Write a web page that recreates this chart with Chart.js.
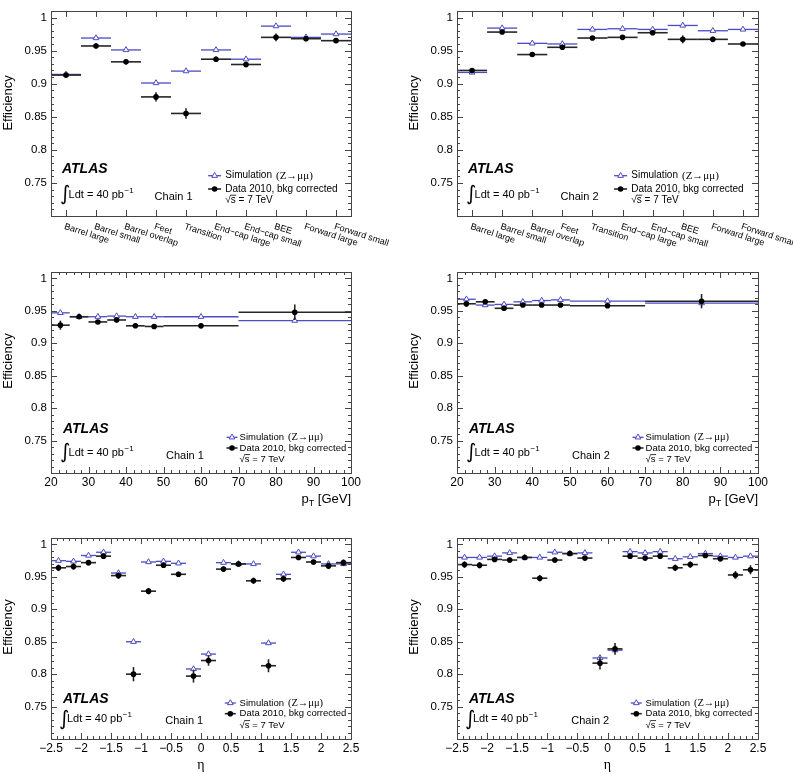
<!DOCTYPE html>
<html>
<head>
<meta charset="utf-8">
<script src="https://cdn.jsdelivr.net/npm/chart.js"></script>
<style>
  body { margin: 0; background: #fff; }
  #wrap { position: relative; width: 793px; height: 774px; }
  #wrap canvas { position: absolute; left: 0; top: 0; }
</style>
</head>
<body>
<div id="wrap">
  <canvas id="regionChain1" width="793" height="774"></canvas>
  <canvas id="regionChain2" width="793" height="774"></canvas>
  <canvas id="ptChain1" width="793" height="774"></canvas>
  <canvas id="ptChain2" width="793" height="774"></canvas>
  <canvas id="etaChain1" width="793" height="774"></canvas>
  <canvas id="etaChain2" width="793" height="774"></canvas>
</div>
<script>
// Detector regions (top row)
const regionLabels = ["Barrel large", "Barrel small", "Barrel overlap", "Feet", "Transition",
  "End\u2212cap large", "End\u2212cap small", "BEE", "Forward large", "Forward small"];
const regionEdges = [0, 1, 2, 3, 4, 5, 6, 7, 8, 9, 10];
const regionSimChain1 = [0.914, 0.969, 0.951, 0.901, 0.919, 0.951, 0.937, 0.987, 0.970, 0.975];
const regionDataChain1 = [0.913, 0.957, 0.933, 0.880, 0.855, 0.937, 0.929, 0.970, 0.968, 0.965];
const regionErrChain1 = [0.003, 0.004, 0.004, 0.007, 0.008, 0.004, 0.004, 0.006, 0.004, 0.003];
const regionSimChain2 = [0.917, 0.984, 0.961, 0.960, 0.982, 0.983, 0.982, 0.988, 0.980, 0.982];
const regionDataChain2 = [0.920, 0.978, 0.944, 0.955, 0.969, 0.970, 0.977, 0.967, 0.967, 0.960];
const regionErrChain2 = [0.003, 0.003, 0.003, 0.004, 0.003, 0.003, 0.003, 0.006, 0.004, 0.003];

// pT bins (middle row)
const ptEdges = [20, 25, 30, 35, 40, 45, 50, 70, 100];
const ptTicks = [20, 30, 40, 50, 60, 70, 80, 90, 100];
const ptSimChain1 = [0.947, 0.941, 0.941, 0.942, 0.941, 0.941, 0.941, 0.935];
const ptDataChain1 = [0.928, 0.941, 0.933, 0.936, 0.927, 0.926, 0.927, 0.948];
const ptErrChain1 = [0.007, 0.003, 0.003, 0.004, 0.003, 0.003, 0.004, 0.012];
const ptSimChain2 = [0.968, 0.959, 0.960, 0.964, 0.966, 0.967, 0.965, 0.962];
const ptDataChain2 = [0.961, 0.964, 0.954, 0.959, 0.959, 0.959, 0.958, 0.965];
const ptErrChain2 = [0.005, 0.003, 0.003, 0.003, 0.003, 0.003, 0.003, 0.011];

// eta bins (bottom row)
const etaEdges = [-2.5, -2.25, -2, -1.75, -1.5, -1.25, -1, -0.75, -0.5, -0.25, 0,
  0.25, 0.5, 0.75, 1, 1.25, 1.5, 1.75, 2, 2.25, 2.5];
const etaTicks = [-2.5, -2, -1.5, -1, -0.5, 0, 0.5, 1, 1.5, 2, 2.5];
const etaSimChain1 = [0.975, 0.974, 0.983, 0.988, 0.956, 0.850, 0.973, 0.974, 0.971, 0.808,
  0.831, 0.972, 0.970, 0.970, 0.848, 0.954, 0.988, 0.982, 0.970, 0.970];
const etaDataChain1 = [0.964, 0.966, 0.972, 0.982, 0.952, 0.800, 0.928, 0.968, 0.954, 0.797,
  0.821, 0.962, 0.970, 0.944, 0.813, 0.947, 0.980, 0.973, 0.967, 0.972];
const etaErrChain1 = [0.005, 0.005, 0.004, 0.003, 0.005, 0.011, 0.005, 0.004, 0.004, 0.010,
  0.008, 0.004, 0.004, 0.005, 0.010, 0.005, 0.003, 0.004, 0.005, 0.005];
const etaSimChain2 = [0.980, 0.980, 0.982, 0.987, 0.980, 0.980, 0.988, 0.986, 0.987, 0.825,
  0.837, 0.989, 0.987, 0.989, 0.978, 0.981, 0.986, 0.982, 0.980, 0.982];
const etaDataChain2 = [0.969, 0.968, 0.977, 0.976, 0.980, 0.948, 0.976, 0.986, 0.979, 0.817,
  0.839, 0.982, 0.979, 0.982, 0.964, 0.969, 0.983, 0.978, 0.953, 0.961];
const etaErrChain2 = [0.005, 0.005, 0.004, 0.004, 0.003, 0.005, 0.004, 0.003, 0.003, 0.010,
  0.009, 0.003, 0.003, 0.003, 0.005, 0.005, 0.003, 0.004, 0.006, 0.007];

const yTicks = [0.75, 0.8, 0.85, 0.9, 0.95, 1];

const SANS = "'Liberation Sans', Arial, sans-serif";
const SERIF = "'Liberation Serif', 'Times New Roman', serif";
const BLUE = "#4b4bc3";
const FRAME = "#444";

Chart.defaults.font.family = SANS;
Chart.defaults.color = "#000";

// Text layout per row, offsets from frame left / frame bottom
const topDeco = { atlas: [11, 43.5], lumi: [17.6, 17.7], integral: [9, 16.5], chain: [103.6, 16],
  legText: 174.3, legMark: 163.6, legHalf: 6.5, legRows: [40.3, 27, 13], legFont: 10, titleY: 92 };
const midDeco = { atlas: [12, 40.4], lumi: [17.6, 17], integral: [9, 15], chain: [115, 14.4],
  legText: 188.6, legMark: 181, legHalf: 5.5, legRows: [35.7, 25, 11], legFont: 9.5, titleY: 89 };
const botDeco = { atlas: [12, 36], lumi: [16, 17], integral: [8, 14.5], chain: [114.3, 15.3],
  legText: 188.6, legMark: 179.3, legHalf: 5.5, legRows: [36, 25.3, 11], legFont: 9.5, titleY: 89 };

function toPoints(edges, values, errs) {
  return values.map((v, i) => ({
    x: (edges[i] + edges[i + 1]) / 2,
    y: v,
    lo: edges[i],
    hi: edges[i + 1],
    err: errs ? errs[i] : 0,
  }));
}

function fmt(v) {
  const s = String(Math.round(v * 100) / 100);
  return s.replace("-", "\u2212");
}

// ROOT-like frame, inward ticks, error bars and the annotations
const rootStyle = {
  id: "rootStyle",
  beforeDatasetDraw(chart, args) {
    const ds = chart.data.datasets[args.index];
    const { ctx, scales: { x, y } } = chart;
    ctx.save();
    ctx.strokeStyle = ds.barColor;
    ctx.lineWidth = ds.barWidth;
    ds.data.forEach((p) => {
      const py = y.getPixelForValue(p.y);
      ctx.beginPath();
      ctx.moveTo(x.getPixelForValue(p.lo), py);
      ctx.lineTo(x.getPixelForValue(p.hi), py);
      ctx.stroke();
      if (p.err) {
        const px = x.getPixelForValue(p.x);
        ctx.beginPath();
        ctx.moveTo(px, y.getPixelForValue(p.y - p.err));
        ctx.lineTo(px, y.getPixelForValue(p.y + p.err));
        ctx.stroke();
      }
    });
    ctx.restore();
  },
  afterDraw(chart, args, opts) {
    const { ctx, chartArea: a, scales: { x, y } } = chart;
    const L = a.left, R = a.right, T = a.top, B = a.bottom;
    const d = opts.deco;
    ctx.save();

    // frame
    ctx.strokeStyle = FRAME;
    ctx.lineWidth = 1;
    ctx.strokeRect(Math.round(L) + 0.5, Math.round(T) + 0.5, Math.round(R - L), Math.round(B - T));

    // y ticks (left and right)
    ctx.beginPath();
    for (let k = 70; k <= 101; k++) {
      const py = Math.round(y.getPixelForValue(k / 100)) + 0.5;
      const len = k % 5 === 0 ? 6 : 3;
      ctx.moveTo(L, py); ctx.lineTo(L + len, py);
      ctx.moveTo(R, py); ctx.lineTo(R - len, py);
    }
    // x ticks (bottom and top)
    const xs = opts.xTicks;
    const xticks = [];
    if (xs.centers) {
      xs.centers.forEach((c) => xticks.push([c, 6]));
    } else {
      for (let k = 0; ; k++) {
        const v = xs.lo + k * xs.minor;
        if (v > xs.hi + 1e-9) break;
        const r = v / xs.major;
        xticks.push([v, Math.abs(r - Math.round(r)) < 1e-6 ? 6 : 3]);
      }
    }
    xticks.forEach(([v, len]) => {
      const px = Math.round(x.getPixelForValue(v)) + 0.5;
      ctx.moveTo(px, B); ctx.lineTo(px, B - len);
      ctx.moveTo(px, T); ctx.lineTo(px, T + len);
    });
    ctx.stroke();

    ctx.fillStyle = "#000";

    // y title
    ctx.save();
    ctx.translate(L - 43, T + d.titleY);
    ctx.rotate(-Math.PI / 2);
    ctx.font = "13px " + SANS;
    ctx.textAlign = "center";
    ctx.textBaseline = "middle";
    ctx.fillText("Efficiency", 0, 0);
    ctx.restore();

    // x title / category labels
    if (opts.categories) {
      ctx.font = "9px " + SANS;
      ctx.textAlign = "left";
      ctx.textBaseline = "top";
      opts.categories.forEach((label, i) => {
        const px = x.getPixelForValue((regionEdges[i] + regionEdges[i + 1]) / 2);
        ctx.save();
        ctx.translate(px, B + 6);
        ctx.rotate(18 * Math.PI / 180);
        ctx.fillText(label, 0, 0);
        ctx.restore();
      });
    } else if (opts.xTitle === "pt") {
      ctx.textBaseline = "alphabetic";
      ctx.textAlign = "left";
      ctx.font = "13px " + SANS;
      const w1 = ctx.measureText("p").width;
      const w3 = ctx.measureText(" [GeV]").width;
      ctx.font = "9px " + SANS;
      const w2 = ctx.measureText("T").width;
      let px = R - (w1 + w2 + w3);
      const py = B + 30;
      ctx.font = "13px " + SANS;
      ctx.fillText("p", px, py);
      ctx.font = "9px " + SANS;
      ctx.fillText("T", px + w1, py + 3);
      ctx.font = "13px " + SANS;
      ctx.fillText(" [GeV]", px + w1 + w2, py);
    } else if (opts.xTitle === "eta") {
      ctx.font = "14px " + SERIF;
      ctx.textAlign = "center";
      ctx.textBaseline = "alphabetic";
      ctx.fillText("\u03b7", (L + R) / 2, B + 30);
    }

    // ATLAS label
    ctx.textAlign = "left";
    ctx.textBaseline = "alphabetic";
    ctx.font = "italic bold 14px " + SANS;
    ctx.fillText("ATLAS", L + d.atlas[0], B - d.atlas[1]);

    // luminosity
    ctx.font = "20px 'DejaVu Sans'";
    ctx.fillText("\u222b", L + d.integral[0], B - d.integral[1]);
    ctx.font = "11px " + SANS;
    const lx = L + d.lumi[0], ly = B - d.lumi[1];
    ctx.fillText("Ldt = 40 pb", lx, ly);
    const lw = ctx.measureText("Ldt = 40 pb").width;
    ctx.font = "8px " + SANS;
    ctx.fillText("\u22121", lx + lw + 0.5, ly - 5);

    // chain
    ctx.font = "11px " + SANS;
    ctx.fillText(opts.chain, L + d.chain[0], B - d.chain[1]);

    // legend
    const f = d.legFont;
    const mx = L + d.legMark;
    const tx = L + d.legText;
    const sim = chart.data.datasets.find((ds) => ds.kind === "sim");
    const dat = chart.data.datasets.find((ds) => ds.kind === "data");
    [[sim, B - d.legRows[0]], [dat, B - d.legRows[1]]].forEach(([ds, ry]) => {
      ctx.strokeStyle = ds.barColor;
      ctx.lineWidth = ds.barWidth;
      ctx.beginPath();
      ctx.moveTo(mx - d.legHalf, ry); ctx.lineTo(mx + d.legHalf, ry);
      ctx.stroke();
      ctx.fillStyle = ds.backgroundColor;
      ctx.strokeStyle = ds.borderColor;
      ctx.lineWidth = ds.borderWidth || 1;
      Chart.helpers.drawPoint(ctx, { pointStyle: ds.pointStyle, radius: ds.pointRadius, rotation: 0, borderWidth: ds.borderWidth }, mx, ry);
    });
    ctx.fillStyle = "#000";
    ctx.textBaseline = "middle";
    ctx.font = f + "px " + SANS;
    ctx.fillText("Simulation", tx, B - d.legRows[0]);
    const sw = ctx.measureText("Simulation").width;
    ctx.font = (f + 1) + "px " + SERIF;
    ctx.fillText("(Z\u2192\u03bc\u03bc)", tx + sw + 4, B - d.legRows[0]);
    ctx.font = f + "px " + SANS;
    ctx.fillText(dat.label, tx, B - d.legRows[1]);
    ctx.textBaseline = "alphabetic";
    const by = B - d.legRows[2];
    ctx.fillText("\u221a", tx, by);
    const rw = ctx.measureText("\u221a").width;
    ctx.fillText("s", tx + rw, by);
    const ssw = ctx.measureText("s").width;
    ctx.lineWidth = 0.8;
    ctx.strokeStyle = "#000";
    ctx.beginPath();
    ctx.moveTo(tx + rw - 0.5, by - f * 0.78);
    ctx.lineTo(tx + rw + ssw + 0.5, by - f * 0.78);
    ctx.stroke();
    ctx.fillText(" = 7 TeV", tx + rw + ssw, by);

    ctx.restore();
  },
};

function makePanel(id, frame, xCfg, sim, data, err, chain, deco) {
  const yAxisW = 40;
  const xAxisH = xCfg.labels ? 20 : 0;
  new Chart(document.getElementById(id), {
    type: "scatter",
    data: {
      datasets: [
        {
          kind: "data",
          label: "Data 2010, bkg corrected",
          data: toPoints(xCfg.edges, data, err),
          pointStyle: "circle",
          pointRadius: 2.8,
          backgroundColor: "#000",
          borderColor: "#000",
          borderWidth: 0,
          barColor: "#262626",
          barWidth: 1.6,
          order: 1,
        },
        {
          kind: "sim",
          label: "Simulation (Z\u2192\u03bc\u03bc)",
          data: toPoints(xCfg.edges, sim, null),
          pointStyle: "triangle",
          pointRadius: 3.3,
          backgroundColor: "#fff",
          borderColor: BLUE,
          borderWidth: 1,
          barColor: BLUE,
          barWidth: 1.3,
          order: 2,
        },
      ],
    },
    options: {
      responsive: false,
      animation: false,
      events: [],
      layout: {
        padding: {
          left: frame.l - yAxisW,
          top: frame.t,
          right: 793 - frame.r,
          bottom: 774 - frame.b - xAxisH,
        },
      },
      plugins: {
        legend: { display: false },
        tooltip: { enabled: false },
        rootStyle: {
          deco: deco,
          chain: chain,
          xTicks: xCfg.ticks,
          categories: xCfg.categories,
          xTitle: xCfg.title,
        },
      },
      scales: {
        x: {
          type: "linear",
          min: xCfg.min,
          max: xCfg.max,
          display: !!xCfg.labels,
          grid: { display: false, drawTicks: false },
          border: { display: false },
          ticks: {
            autoSkip: false,
            maxRotation: 0,
            padding: 2,
            font: { size: 12 },
            callback: (v) => fmt(v),
          },
          afterBuildTicks: (scale) => {
            if (xCfg.labels) scale.ticks = xCfg.labels.map((v) => ({ value: v }));
          },
          afterFit: (scale) => { scale.height = xAxisH; },
        },
        y: {
          type: "linear",
          min: 0.70,
          max: 1.01,
          grid: { display: false, drawTicks: false },
          border: { display: false },
          ticks: {
            padding: 4,
            font: { size: 11.5 },
            callback: (v) => fmt(v),
          },
          afterBuildTicks: (scale) => { scale.ticks = yTicks.map((v) => ({ value: v })); },
          afterFit: (scale) => { scale.width = yAxisW; },
        },
      },
    },
    plugins: [rootStyle],
  });
}

const regionX = {
  edges: regionEdges, min: 0, max: 10, labels: null,
  ticks: { centers: regionEdges.slice(0, -1).map((e, i) => (e + regionEdges[i + 1]) / 2) },
  categories: regionLabels,
};
const ptX = {
  edges: ptEdges, min: 20, max: 100, labels: ptTicks,
  ticks: { lo: 20, hi: 100, minor: 2, major: 10 }, title: "pt",
};
const etaX = {
  edges: etaEdges, min: -2.5, max: 2.5, labels: etaTicks,
  ticks: { lo: -2.5, hi: 2.5, minor: 0.1, major: 0.5 }, title: "eta",
};

const leftCol = { l: 51, r: 351 };
const rightCol = { l: 457, r: 758 };
const topRow = { t: 1, b: 216 };
const midRow = { t: 272, b: 473 };
const botRow = { t: 538, b: 739 };

makePanel("regionChain1", { ...leftCol, ...topRow }, regionX, regionSimChain1, regionDataChain1, regionErrChain1, "Chain 1", topDeco);
makePanel("regionChain2", { ...rightCol, ...topRow }, regionX, regionSimChain2, regionDataChain2, regionErrChain2, "Chain 2", topDeco);
makePanel("ptChain1", { ...leftCol, ...midRow }, ptX, ptSimChain1, ptDataChain1, ptErrChain1, "Chain 1", midDeco);
makePanel("ptChain2", { ...rightCol, ...midRow }, ptX, ptSimChain2, ptDataChain2, ptErrChain2, "Chain 2", midDeco);
makePanel("etaChain1", { ...leftCol, ...botRow }, etaX, etaSimChain1, etaDataChain1, etaErrChain1, "Chain 1", botDeco);
makePanel("etaChain2", { ...rightCol, ...botRow }, etaX, etaSimChain2, etaDataChain2, etaErrChain2, "Chain 2", botDeco);
</script>
</body>
</html>
